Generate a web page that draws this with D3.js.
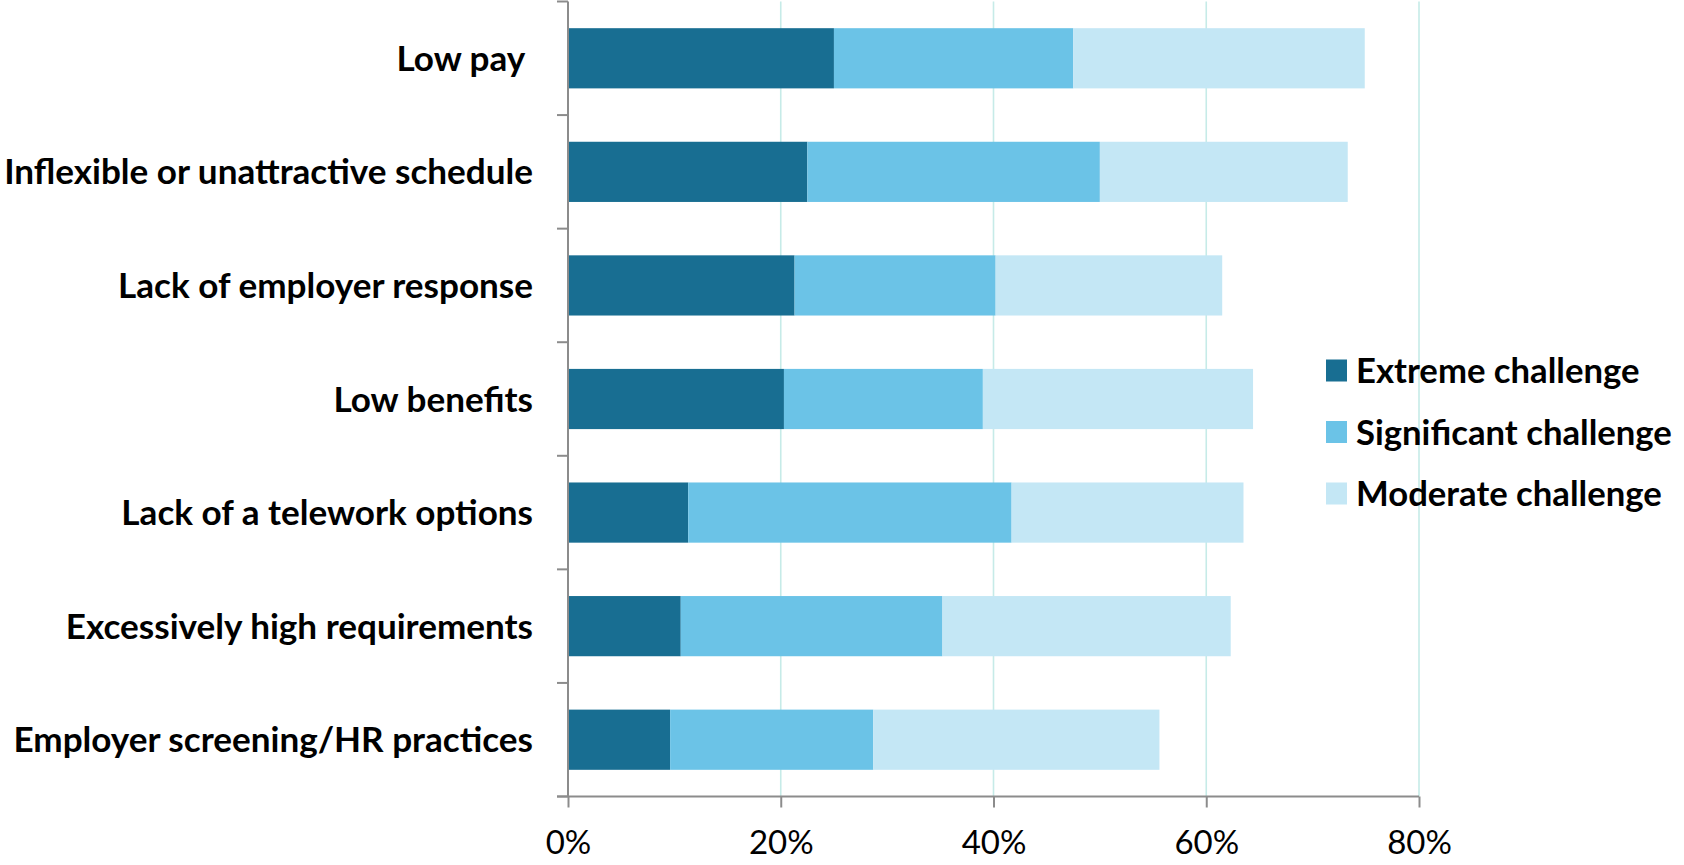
<!DOCTYPE html>
<html>
<head>
<meta charset="utf-8">
<script src="https://cdn.jsdelivr.net/npm/d3@7"></script>
<style>
  html, body { margin: 0; padding: 0; background: #ffffff; }
  svg { display: block; }
  text { font-family: "Lato", "Liberation Sans", sans-serif; fill: #000; }
</style>
</head>
<body>
<svg id="chart" width="1684" height="865"></svg>
<script>
// Survey: challenges faced when looking for work (share of respondents, %)
const categories = [
  "Low pay ",
  "Inflexible or unattractive schedule",
  "Lack of employer response",
  "Low benefits",
  "Lack of a telework options",
  "Excessively high requirements",
  "Employer screening/HR practices"
];
const seriesNames = ["Extreme challenge", "Significant challenge", "Moderate challenge"];
const extreme     = [25.0, 22.5, 21.3, 20.3, 11.3, 10.6, 9.6];
const significant = [22.5, 27.5, 18.9, 18.7, 30.4, 24.6, 19.1];
const moderate    = [27.4, 23.3, 21.3, 25.4, 21.8, 27.1, 26.9];
const xTicks = [0, 20, 40, 60, 80];

const colors = ["#186e92", "#6bc3e7", "#c4e7f5"];
const axisColor = "#8c8c8c";
const gridColor = "#c6ebe8";

const svg = d3.select("#chart");

const plot = { left: 568, right: 1419, top: 1.5, bottom: 796.5 };

const x = d3.scaleLinear().domain([0, 80]).range([plot.left, plot.right]);
const y = d3.scaleBand()
  .domain(categories)
  .range([plot.top, plot.bottom])
  .paddingInner(0.47)
  .paddingOuter(0.235);

// rows for stacking
const rows = categories.map((c, i) => ({
  category: c,
  "Extreme challenge": extreme[i],
  "Significant challenge": significant[i],
  "Moderate challenge": moderate[i]
}));
const stacked = d3.stack().keys(seriesNames)(rows);

// vertical gridlines (behind the bars)
svg.append("g")
  .selectAll("line")
  .data(xTicks.filter(d => d > 0))
  .join("line")
  .attr("x1", d => x(d)).attr("x2", d => x(d))
  .attr("y1", plot.top).attr("y2", plot.bottom)
  .attr("stroke", gridColor)
  .attr("stroke-width", 1.6);

// stacked bars
svg.append("g")
  .selectAll("g")
  .data(stacked)
  .join("g")
  .attr("fill", (d, i) => colors[i])
  .selectAll("rect")
  .data(d => d)
  .join("rect")
  .attr("x", d => x(d[0]))
  .attr("width", d => x(d[1]) - x(d[0]))
  .attr("y", d => y(d.data.category))
  .attr("height", y.bandwidth());

// x axis
const xAxis = svg.append("g")
  .attr("transform", `translate(0,${plot.bottom})`)
  .call(d3.axisBottom(x)
    .tickValues(xTicks)
    .tickSize(11)
    .tickPadding(23)
    .tickFormat(d => d + "%"));
xAxis.select(".domain").remove();
xAxis.selectAll(".tick line").attr("stroke", axisColor).attr("stroke-width", 2);
xAxis.selectAll(".tick text")
  .attr("font-family", "Lato")
  .attr("font-size", 33)
  .attr("fill", "#000");

// axis lines
const boundaries = categories.map(c => y(c) - y.step() * y.paddingInner() / 2);
boundaries.push(plot.bottom);

svg.append("line")
  .attr("x1", plot.left).attr("x2", plot.left)
  .attr("y1", plot.top).attr("y2", plot.bottom)
  .attr("stroke", axisColor).attr("stroke-width", 2);
svg.append("line")
  .attr("x1", plot.left - 11).attr("x2", plot.right)
  .attr("y1", plot.bottom).attr("y2", plot.bottom)
  .attr("stroke", axisColor).attr("stroke-width", 2);

// y axis tick marks at category boundaries
svg.append("g")
  .selectAll("line")
  .data(boundaries)
  .join("line")
  .attr("x1", plot.left - 11).attr("x2", plot.left)
  .attr("y1", d => d).attr("y2", d => d)
  .attr("stroke", axisColor).attr("stroke-width", 2);

// category labels
const catLabels = svg.append("g")
  .selectAll("text")
  .data(categories)
  .join("text")
  .attr("x", 533)
  .attr("y", d => y(d) + y.bandwidth() / 2)
  .attr("dy", "0.36em")
  .attr("text-anchor", "end")
  .style("white-space", "pre")
  .attr("font-weight", 700)
  .attr("font-size", 32)
  .text(d => d);

// legend
const legend = svg.append("g").attr("transform", "translate(1326,0)");
const legendRows = [370.5, 432, 493.5];
const lg = legend.selectAll("g")
  .data(seriesNames)
  .join("g")
  .attr("transform", (d, i) => `translate(0,${legendRows[i]})`);
lg.append("rect")
  .attr("x", 0).attr("y", -11)
  .attr("width", 21).attr("height", 22)
  .attr("fill", (d, i) => colors[i]);
const legendText = lg.append("text")
  .attr("x", 30)
  .attr("dy", "0.36em")
  .attr("font-weight", 700)
  .attr("font-size", 32)
  .text(d => d);

// scale the label fonts so that the longest strings span their measured widths
function fit(sel, sample, width) {
  const node = sel.filter(d => d === sample).node();
  const w = node.getComputedTextLength();
  const size = 32 * width / w;
  sel.attr("font-size", size);
}
fit(catLabels, "Inflexible or unattractive schedule", 529);
fit(legendText, "Significant challenge", 316);
</script>
</body>
</html>
